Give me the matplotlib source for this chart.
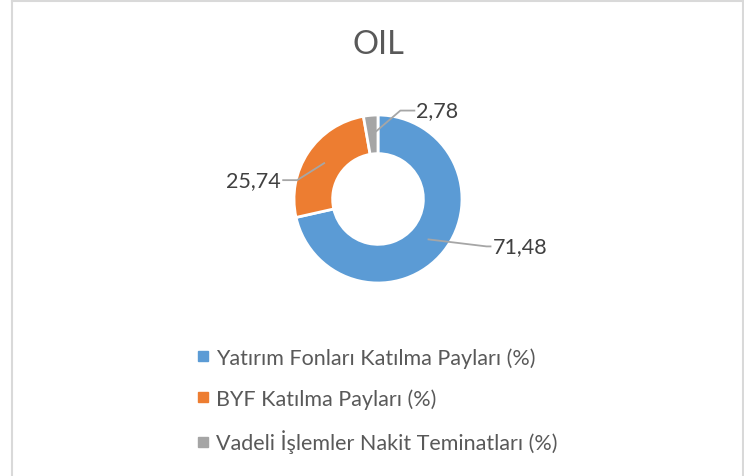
import numpy as np
import matplotlib.pyplot as plt
from matplotlib.lines import Line2D

plt.rcParams['font.family'] = ['Lato', 'DejaVu Sans']

title = 'OIL'
labels = ['Yatırım Fonları Katılma Payları (%)',
          'BYF Katılma Payları (%)',
          'Vadeli İşlemler Nakit Teminatları (%)']
values = [71.48, 25.74, 2.78]
value_texts = ['71,48', '25,74', '2,78']
colors = ['#5B9BD5', '#ED7D31', '#A5A5A5']

W, H = 744, 477
fig = plt.figure(figsize=(W / 100, H / 100), dpi=100)
ax = fig.add_axes([0, 0, 1, 1])

cx, cy, R = 378, H - 200, 84
wedges, _ = ax.pie(values, colors=colors, startangle=90, counterclock=False,
                   center=(cx, cy), radius=R, frame=True,
                   wedgeprops=dict(width=R * 0.46, edgecolor='white', linewidth=2))
ax.set_xlim(0, W)
ax.set_ylim(0, H)
ax.axis('off')

# leader lines: (elbow offset, horizontal length, alignment)
leaders = [((58, -7), 4, 'left'), ((-27, -17), -14, 'right'), ((28, 24), 14, 'left')]
r_mid = R * 0.77
for w, txt, (elb, hl, ha) in zip(wedges, value_texts, leaders):
    ang = np.deg2rad((w.theta1 + w.theta2) / 2)
    x0, y0 = cx + r_mid * np.cos(ang), cy + r_mid * np.sin(ang)
    x1, y1 = x0 + elb[0], y0 + elb[1]
    x2 = x1 + hl
    ax.plot([x0, x1, x2], [y0, y1, y1], color='#A6A6A6', lw=1.3)
    tx = x2 + (2 if ha == 'left' else -2)
    ax.text(tx, y1, txt, ha=ha, va='center', fontsize=15.5, color='#404040')

ax.text(cx, H - 45, title, ha='center', va='center', fontsize=23.5, color='#595959')

handles = [Line2D([], [], marker='s', ls='', color=c, markersize=7) for c in colors]
fig.legend(handles, labels, loc='upper left', bbox_to_anchor=(177 / W, 1 - 329 / H),
           frameon=False, handlelength=0.6, handletextpad=0.3, labelspacing=0.95,
           fontsize=15.5, labelcolor='#595959')

# chart border
bc = '#D9D9D9'
fig.add_artist(Line2D([11.5 / W, 11.5 / W], [0, 1 - 1.5 / H], color=bc, lw=1.5))
fig.add_artist(Line2D([11.5 / W, 742.5 / W], [1 - 1.5 / H, 1 - 1.5 / H], color=bc, lw=1.5))
fig.add_artist(Line2D([742.5 / W, 742.5 / W], [0, 1 - 1.5 / H], color=bc, lw=1.5))

fig.savefig('out.png', dpi=100)
